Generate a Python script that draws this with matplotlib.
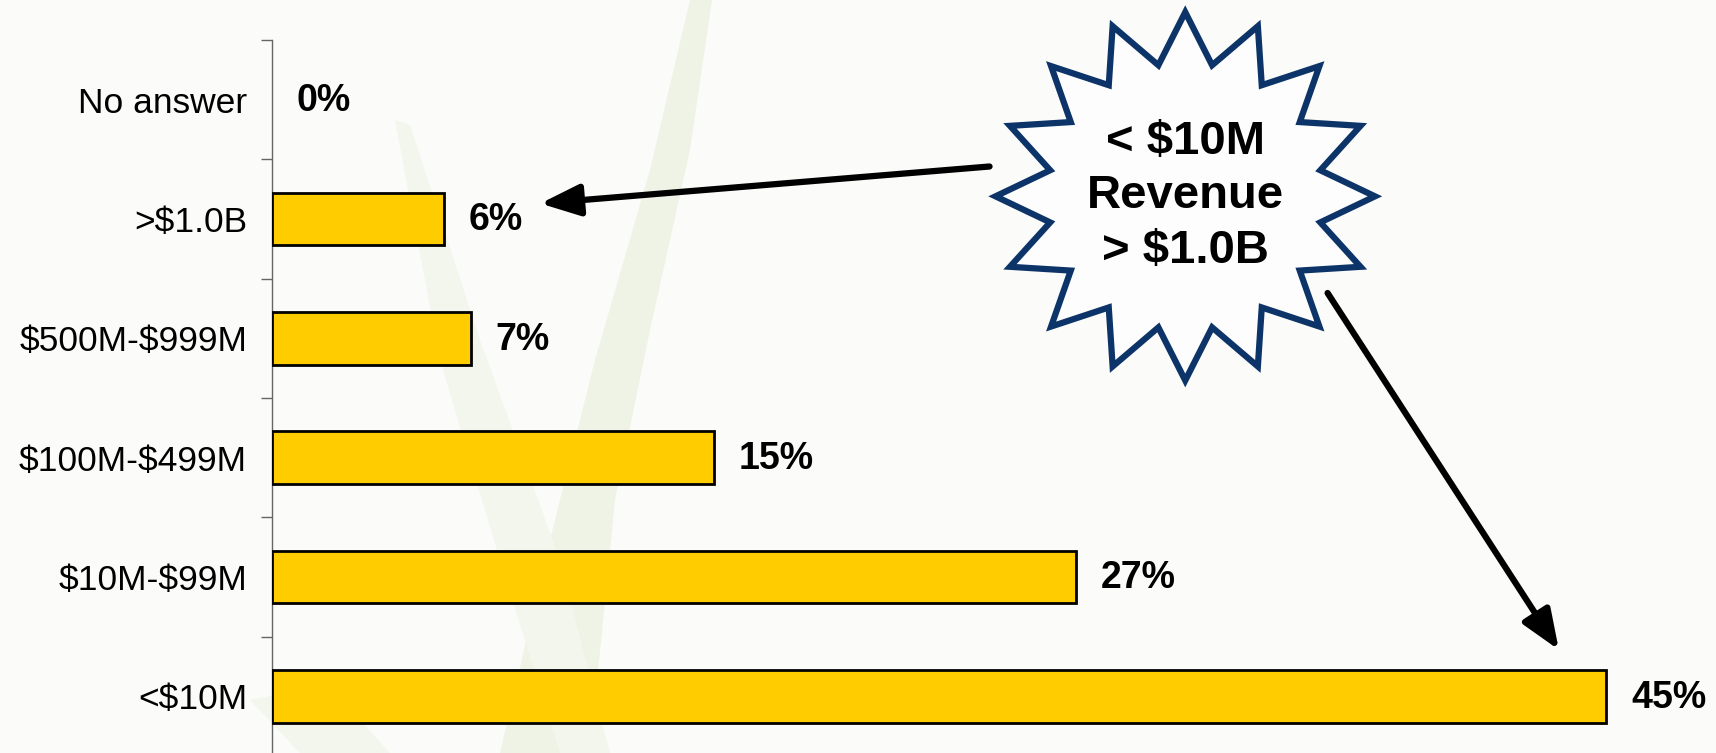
import numpy as np
import matplotlib
matplotlib.use('Agg')
from matplotlib import pyplot as plt
from matplotlib.patches import Polygon
import matplotlib.transforms as mtransforms

plt.rcParams['font.family'] = ['Liberation Sans', 'DejaVu Sans']

# bottom to top
categories = ['<$10M', '$10M-$99M', '$100M-$499M', '$500M-$999M', '>$1.0B', 'No answer']
values = [45.0, 27.1, 14.9, 6.7, 5.8, 0.0]
labels = ['45%', '27%', '15%', '7%', '6%', '0%']
callout = '< $10M\nRevenue\n> $1.0B'

W, H = 1716, 753
fig = plt.figure(figsize=(W / 100, H / 100), dpi=100)
fig.patch.set_facecolor('#fbfbf9')

# faint leaves in the background
def px(points):
    return [(x / W, 1 - y / H) for x, y in points]

leaf_big = px([(690, 0), (712, 0), (690, 150), (650, 330), (615, 500), (590, 753),
               (500, 753), (545, 560), (595, 360), (650, 170)])
leaf_thin = px([(395, 120), (410, 125), (480, 340), (560, 560), (610, 753),
                (560, 753), (500, 560), (440, 360)])
leaf_low = px([(250, 700), (300, 690), (360, 720), (390, 753), (300, 753)])
for pts, c in [(leaf_big, '#eef3e6'), (leaf_thin, '#f2f6ed'), (leaf_low, '#f2f6ed')]:
    fig.patches.append(Polygon(pts, closed=True, transform=fig.transFigure,
                               facecolor=c, edgecolor='none', zorder=-5))

ax = fig.add_axes([272 / W, (H - 756) / H, 1 - 272 / W, 716 / H])
ax.set_facecolor('none')

y = np.arange(len(categories))
edges = ['black' if v > 0 else 'none' for v in values]
ax.barh(y, values, height=0.44, color='#ffcc00', edgecolor=edges, linewidth=2, zorder=3)
for yi, v, lab in zip(y, values, labels):
    ax.annotate(lab, (v, yi), xytext=(18, -1), textcoords='offset points',
                ha='left', va='center', fontsize=27, fontweight='bold', zorder=4)

ax.set_xlim(0, 48.7)
ax.set_ylim(-0.5, 5.5)
ax.set_yticks(y)
ax.set_yticklabels(categories, fontsize=25.5, parse_math=False)
ax.set_yticks(np.arange(-0.5, 6, 1), minor=True)
ax.tick_params(axis='y', which='major', length=0, pad=18)
ax.tick_params(axis='y', which='minor', length=8, width=1, color='#666666')
ax.set_xticks([])
for s in ['top', 'right', 'bottom']:
    ax.spines[s].set_visible(False)
ax.spines['left'].set_color('#666666')
ax.spines['left'].set_linewidth(1)

# starburst callout
cx, cy = 30.8, 4.19
trans = fig.dpi_scale_trans + mtransforms.ScaledTranslation(cx, cy, ax.transData)
n = 16
ang = np.pi / 2 + np.arange(2 * n) * np.pi / n
rad = np.where(np.arange(2 * n) % 2 == 0, 1.86, 1.35)
star = np.column_stack([rad * np.cos(ang) * 1.02, rad * np.sin(ang) * 0.99])
ax.add_patch(Polygon(star, closed=True, transform=trans, facecolor='#fdfdfd',
                     edgecolor='#0d3468', linewidth=4.5, zorder=5, clip_on=False))
ax.text(cx, cy, callout, ha='center', va='center', fontsize=34, fontweight='bold',
        linespacing=1.3, zorder=6, parse_math=False)

arrow = dict(arrowstyle='-|>,head_length=0.4,head_width=0.16', color='black',
             lw=4.5, mutation_scale=60, shrinkA=0, shrinkB=0)
ax.annotate('', xy=(9.05, 4.13), xytext=(24.2, 4.44), arrowprops=arrow, zorder=6,
            annotation_clip=False)
ax.annotate('', xy=(43.4, 0.39), xytext=(35.6, 3.38), arrowprops=arrow, zorder=6,
            annotation_clip=False)

fig.savefig('out.png', dpi=100, facecolor=fig.get_facecolor())
